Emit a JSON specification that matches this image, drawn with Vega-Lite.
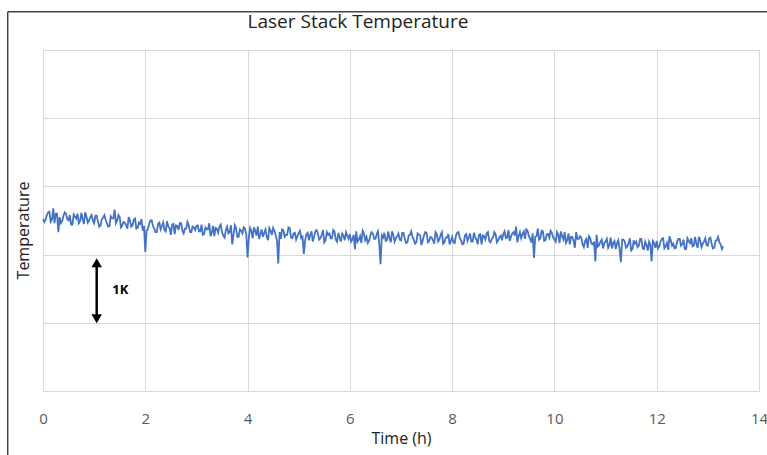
{
  "$schema": "https://vega.github.io/schema/vega-lite/v6.json",
  "width": 716,
  "height": 341,
  "autosize": {"type": "none"},
  "padding": {"left": 43, "top": 50, "right": 8, "bottom": 64},
  "background": "white",
  "title": {"text": "Laser Stack Temperature", "anchor": "middle", "frame": "group", "dx": -43, "offset": 0, "dy": 21, "fontSize": 19, "font": "Open Sans", "fontWeight": "normal", "color": "#222222"},
  "config": {
    "view": {"stroke": null},
    "axis": {"gridColor": "#d9d9d9", "gridWidth": 1, "domain": false, "ticks": false, "labelFont": "Open Sans", "titleFont": "Open Sans", "labelColor": "#595959", "titleColor": "#222222", "titleFontWeight": "normal"}
  },
  "layer": [
    {
      "data": {"values": [
        {"t":0.00,"v":2.52},{"t":0.05,"v":2.51},{"t":0.10,"v":2.62},{"t":0.15,"v":2.48},{"t":0.20,"v":2.68},{"t":0.25,"v":2.60},{"t":0.30,"v":2.33},{"t":0.35,"v":2.46},{"t":0.40,"v":2.57},{"t":0.45,"v":2.60},
        {"t":0.50,"v":2.50},{"t":0.55,"v":2.44},{"t":0.60,"v":2.59},{"t":0.65,"v":2.53},{"t":0.70,"v":2.46},{"t":0.75,"v":2.61},{"t":0.80,"v":2.45},{"t":0.85,"v":2.56},{"t":0.90,"v":2.50},{"t":0.95,"v":2.58},
        {"t":1.00,"v":2.46},{"t":1.05,"v":2.57},{"t":1.10,"v":2.41},{"t":1.15,"v":2.52},{"t":1.20,"v":2.58},{"t":1.25,"v":2.46},{"t":1.30,"v":2.42},{"t":1.35,"v":2.53},{"t":1.40,"v":2.66},{"t":1.45,"v":2.50},
        {"t":1.50,"v":2.55},{"t":1.55,"v":2.43},{"t":1.60,"v":2.47},{"t":1.65,"v":2.38},{"t":1.70,"v":2.50},{"t":1.75,"v":2.43},{"t":1.80,"v":2.53},{"t":1.85,"v":2.39},{"t":1.90,"v":2.45},{"t":1.95,"v":2.35},
        {"t":2.00,"v":2.04},{"t":2.05,"v":2.37},{"t":2.10,"v":2.50},{"t":2.15,"v":2.42},{"t":2.20,"v":2.33},{"t":2.25,"v":2.45},{"t":2.30,"v":2.37},{"t":2.35,"v":2.47},{"t":2.40,"v":2.34},{"t":2.45,"v":2.41},
        {"t":2.50,"v":2.29},{"t":2.55,"v":2.45},{"t":2.60,"v":2.43},{"t":2.65,"v":2.36},{"t":2.70,"v":2.46},{"t":2.75,"v":2.31},{"t":2.80,"v":2.38},{"t":2.85,"v":2.43},{"t":2.90,"v":2.33},{"t":2.95,"v":2.40},
        {"t":3.00,"v":2.42},{"t":3.05,"v":2.34},{"t":3.10,"v":2.44},{"t":3.15,"v":2.30},{"t":3.20,"v":2.37},{"t":3.25,"v":2.46},{"t":3.30,"v":2.32},{"t":3.35,"v":2.27},{"t":3.40,"v":2.38},{"t":3.45,"v":2.41},
        {"t":3.50,"v":2.33},{"t":3.55,"v":2.25},{"t":3.60,"v":2.41},{"t":3.65,"v":2.33},{"t":3.70,"v":2.15},{"t":3.75,"v":2.43},{"t":3.80,"v":2.26},{"t":3.85,"v":2.37},{"t":3.90,"v":2.31},{"t":3.95,"v":2.38},
        {"t":4.00,"v":1.96},{"t":4.05,"v":2.39},{"t":4.10,"v":2.24},{"t":4.15,"v":2.35},{"t":4.20,"v":2.41},{"t":4.25,"v":2.30},{"t":4.30,"v":2.26},{"t":4.35,"v":2.37},{"t":4.40,"v":2.21},{"t":4.45,"v":2.35},
        {"t":4.50,"v":2.39},{"t":4.55,"v":2.28},{"t":4.60,"v":1.87},{"t":4.65,"v":2.23},{"t":4.70,"v":2.36},{"t":4.75,"v":2.29},{"t":4.80,"v":2.40},{"t":4.85,"v":2.25},{"t":4.90,"v":2.31},{"t":4.95,"v":2.22},
        {"t":5.00,"v":2.32},{"t":5.05,"v":2.24},{"t":5.10,"v":2.01},{"t":5.15,"v":2.30},{"t":5.20,"v":2.21},{"t":5.25,"v":2.34},{"t":5.30,"v":2.26},{"t":5.35,"v":2.36},{"t":5.40,"v":2.22},{"t":5.45,"v":2.29},
        {"t":5.50,"v":2.18},{"t":5.55,"v":2.33},{"t":5.60,"v":2.31},{"t":5.65,"v":2.24},{"t":5.70,"v":2.34},{"t":5.75,"v":2.19},{"t":5.80,"v":2.25},{"t":5.85,"v":2.31},{"t":5.90,"v":2.21},{"t":5.95,"v":2.28},
        {"t":6.00,"v":2.30},{"t":6.05,"v":2.22},{"t":6.10,"v":2.08},{"t":6.15,"v":2.19},{"t":6.20,"v":2.27},{"t":6.25,"v":2.35},{"t":6.30,"v":2.21},{"t":6.35,"v":2.17},{"t":6.40,"v":2.28},{"t":6.45,"v":2.31},
        {"t":6.50,"v":2.23},{"t":6.55,"v":2.34},{"t":6.60,"v":1.86},{"t":6.65,"v":2.25},{"t":6.70,"v":2.20},{"t":6.75,"v":2.34},{"t":6.80,"v":2.18},{"t":6.85,"v":2.29},{"t":6.90,"v":2.24},{"t":6.95,"v":2.31},
        {"t":7.00,"v":2.21},{"t":7.05,"v":2.32},{"t":7.10,"v":2.17},{"t":7.15,"v":2.28},{"t":7.20,"v":2.34},{"t":7.25,"v":2.22},{"t":7.30,"v":2.18},{"t":7.35,"v":2.29},{"t":7.40,"v":2.14},{"t":7.45,"v":2.28},
        {"t":7.50,"v":2.32},{"t":7.55,"v":2.20},{"t":7.60,"v":2.25},{"t":7.65,"v":2.16},{"t":7.70,"v":2.30},{"t":7.75,"v":2.22},{"t":7.80,"v":2.33},{"t":7.85,"v":2.18},{"t":7.90,"v":2.25},{"t":7.95,"v":2.15},
        {"t":8.00,"v":2.26},{"t":8.05,"v":2.17},{"t":8.10,"v":2.32},{"t":8.15,"v":2.24},{"t":8.20,"v":2.15},{"t":8.25,"v":2.28},{"t":8.30,"v":2.20},{"t":8.35,"v":2.31},{"t":8.40,"v":2.19},{"t":8.45,"v":2.26},
        {"t":8.50,"v":2.15},{"t":8.55,"v":2.30},{"t":8.60,"v":2.28},{"t":8.65,"v":2.22},{"t":8.70,"v":2.33},{"t":8.75,"v":2.18},{"t":8.80,"v":2.25},{"t":8.85,"v":2.30},{"t":8.90,"v":2.21},{"t":8.95,"v":2.28},
        {"t":9.00,"v":2.30},{"t":9.05,"v":2.24},{"t":9.10,"v":2.36},{"t":9.15,"v":2.26},{"t":9.20,"v":2.33},{"t":9.25,"v":2.41},{"t":9.30,"v":2.27},{"t":9.35,"v":2.24},{"t":9.40,"v":2.34},{"t":9.45,"v":2.37},
        {"t":9.50,"v":2.27},{"t":9.55,"v":2.18},{"t":9.60,"v":1.95},{"t":9.65,"v":2.27},{"t":9.70,"v":2.22},{"t":9.75,"v":2.35},{"t":9.80,"v":2.20},{"t":9.85,"v":2.30},{"t":9.90,"v":2.25},{"t":9.95,"v":2.32},
        {"t":10.00,"v":2.22},{"t":10.05,"v":2.33},{"t":10.10,"v":2.17},{"t":10.15,"v":2.27},{"t":10.20,"v":2.33},{"t":10.25,"v":2.21},{"t":10.30,"v":2.15},{"t":10.35,"v":2.26},{"t":10.40,"v":2.10},{"t":10.45,"v":2.23},
        {"t":10.50,"v":2.27},{"t":10.55,"v":2.15},{"t":10.60,"v":2.20},{"t":10.65,"v":2.10},{"t":10.70,"v":2.24},{"t":10.75,"v":2.15},{"t":10.80,"v":1.90},{"t":10.85,"v":2.12},{"t":10.90,"v":2.19},{"t":10.95,"v":2.09},
        {"t":11.00,"v":2.19},{"t":11.05,"v":2.10},{"t":11.10,"v":2.25},{"t":11.15,"v":2.17},{"t":11.20,"v":2.08},{"t":11.25,"v":2.21},{"t":11.30,"v":1.89},{"t":11.35,"v":2.22},{"t":11.40,"v":2.10},{"t":11.45,"v":2.17},
        {"t":11.50,"v":2.06},{"t":11.55,"v":2.21},{"t":11.60,"v":2.19},{"t":11.65,"v":2.13},{"t":11.70,"v":2.23},{"t":11.75,"v":2.08},{"t":11.80,"v":2.14},{"t":11.85,"v":2.19},{"t":11.90,"v":1.90},{"t":11.95,"v":2.17},
        {"t":12.00,"v":2.20},{"t":12.05,"v":2.12},{"t":12.10,"v":2.23},{"t":12.15,"v":2.09},{"t":12.20,"v":2.17},{"t":12.25,"v":2.27},{"t":12.30,"v":2.13},{"t":12.35,"v":2.09},{"t":12.40,"v":2.20},{"t":12.45,"v":2.23},
        {"t":12.50,"v":2.15},{"t":12.55,"v":2.08},{"t":12.60,"v":2.24},{"t":12.65,"v":2.17},{"t":12.70,"v":2.12},{"t":12.75,"v":2.26},{"t":12.80,"v":2.10},{"t":12.85,"v":2.21},{"t":12.90,"v":2.16},{"t":12.95,"v":2.24},
        {"t":13.00,"v":2.13},{"t":13.05,"v":2.25},{"t":13.10,"v":2.09},{"t":13.15,"v":2.20},{"t":13.20,"v":2.26},{"t":13.25,"v":2.15},{"t":13.30,"v":2.12},
        {"t":0.025,"v":2.48},{"t":0.075,"v":2.58},{"t":0.125,"v":2.63},{"t":0.175,"v":2.51},{"t":0.225,"v":2.46},{"t":0.275,"v":2.60},{"t":0.325,"v":2.55},{"t":0.375,"v":2.49},{"t":0.425,"v":2.62},{"t":0.475,"v":2.52},
        {"t":0.525,"v":2.58},{"t":0.575,"v":2.44},{"t":0.625,"v":2.56},{"t":0.675,"v":2.60},{"t":0.725,"v":2.49},{"t":0.775,"v":2.52},{"t":0.825,"v":2.62},{"t":0.875,"v":2.47},{"t":0.925,"v":2.55},{"t":0.975,"v":2.50},
        {"t":1.025,"v":2.57},{"t":1.075,"v":2.48},{"t":1.125,"v":2.43},{"t":1.175,"v":2.54},{"t":1.225,"v":2.51},{"t":1.275,"v":2.41},{"t":1.325,"v":2.56},{"t":1.375,"v":2.53},{"t":1.425,"v":2.46},{"t":1.475,"v":2.58},
        {"t":1.525,"v":2.40},{"t":1.575,"v":2.48},{"t":1.625,"v":2.43},{"t":1.675,"v":2.55},{"t":1.725,"v":2.41},{"t":1.775,"v":2.51},{"t":1.825,"v":2.38},{"t":1.875,"v":2.47},{"t":1.925,"v":2.52},{"t":1.975,"v":2.42},
        {"t":2.025,"v":2.35},{"t":2.075,"v":2.45},{"t":2.125,"v":2.50},{"t":2.175,"v":2.38},{"t":2.225,"v":2.33},{"t":2.275,"v":2.47},{"t":2.325,"v":2.42},{"t":2.375,"v":2.36},{"t":2.425,"v":2.49},{"t":2.475,"v":2.39},
        {"t":2.525,"v":2.44},{"t":2.575,"v":2.30},{"t":2.625,"v":2.42},{"t":2.675,"v":2.46},{"t":2.725,"v":2.35},{"t":2.775,"v":2.38},{"t":2.825,"v":2.48},{"t":2.875,"v":2.33},{"t":2.925,"v":2.41},{"t":2.975,"v":2.36},
        {"t":3.025,"v":2.43},{"t":3.075,"v":2.34},{"t":3.125,"v":2.29},{"t":3.175,"v":2.40},{"t":3.225,"v":2.37},{"t":3.275,"v":2.27},{"t":3.325,"v":2.42},{"t":3.375,"v":2.39},{"t":3.425,"v":2.32},{"t":3.475,"v":2.44},
        {"t":3.525,"v":2.28},{"t":3.575,"v":2.36},{"t":3.625,"v":2.31},{"t":3.675,"v":2.43},{"t":3.725,"v":2.29},{"t":3.775,"v":2.39},{"t":3.825,"v":2.26},{"t":3.875,"v":2.35},{"t":3.925,"v":2.40},{"t":3.975,"v":2.30},
        {"t":4.025,"v":2.25},{"t":4.075,"v":2.35},{"t":4.125,"v":2.40},{"t":4.175,"v":2.28},{"t":4.225,"v":2.23},{"t":4.275,"v":2.37},{"t":4.325,"v":2.32},{"t":4.375,"v":2.26},{"t":4.425,"v":2.39},{"t":4.475,"v":2.29},
        {"t":4.525,"v":2.35},{"t":4.575,"v":2.21},{"t":4.625,"v":2.33},{"t":4.675,"v":2.37},{"t":4.725,"v":2.26},{"t":4.775,"v":2.29},{"t":4.825,"v":2.39},{"t":4.875,"v":2.24},{"t":4.925,"v":2.32},{"t":4.975,"v":2.27},
        {"t":5.025,"v":2.35},{"t":5.075,"v":2.26},{"t":5.125,"v":2.21},{"t":5.175,"v":2.32},{"t":5.225,"v":2.29},{"t":5.275,"v":2.19},{"t":5.325,"v":2.34},{"t":5.375,"v":2.31},{"t":5.425,"v":2.24},{"t":5.475,"v":2.36},
        {"t":5.525,"v":2.21},{"t":5.575,"v":2.29},{"t":5.625,"v":2.24},{"t":5.675,"v":2.36},{"t":5.725,"v":2.22},{"t":5.775,"v":2.32},{"t":5.825,"v":2.19},{"t":5.875,"v":2.28},{"t":5.925,"v":2.33},{"t":5.975,"v":2.23},
        {"t":6.025,"v":2.19},{"t":6.075,"v":2.29},{"t":6.125,"v":2.34},{"t":6.175,"v":2.22},{"t":6.225,"v":2.17},{"t":6.275,"v":2.31},{"t":6.325,"v":2.26},{"t":6.375,"v":2.20},{"t":6.425,"v":2.33},{"t":6.475,"v":2.23},
        {"t":6.525,"v":2.30},{"t":6.575,"v":2.16},{"t":6.625,"v":2.28},{"t":6.675,"v":2.32},{"t":6.725,"v":2.21},{"t":6.775,"v":2.24},{"t":6.825,"v":2.34},{"t":6.875,"v":2.19},{"t":6.925,"v":2.27},{"t":6.975,"v":2.22},
        {"t":7.025,"v":2.32},{"t":7.075,"v":2.23},{"t":7.125,"v":2.18},{"t":7.175,"v":2.29},{"t":7.225,"v":2.26},{"t":7.275,"v":2.16},{"t":7.325,"v":2.31},{"t":7.375,"v":2.28},{"t":7.425,"v":2.21},{"t":7.475,"v":2.33},
        {"t":7.525,"v":2.18},{"t":7.575,"v":2.26},{"t":7.625,"v":2.21},{"t":7.675,"v":2.33},{"t":7.725,"v":2.19},{"t":7.775,"v":2.29},{"t":7.825,"v":2.16},{"t":7.875,"v":2.25},{"t":7.925,"v":2.30},{"t":7.975,"v":2.20},
        {"t":8.025,"v":2.18},{"t":8.075,"v":2.28},{"t":8.125,"v":2.33},{"t":8.175,"v":2.21},{"t":8.225,"v":2.16},{"t":8.275,"v":2.30},{"t":8.325,"v":2.25},{"t":8.375,"v":2.19},{"t":8.425,"v":2.32},{"t":8.475,"v":2.22},
        {"t":8.525,"v":2.29},{"t":8.575,"v":2.15},{"t":8.625,"v":2.27},{"t":8.675,"v":2.31},{"t":8.725,"v":2.20},{"t":8.775,"v":2.23},{"t":8.825,"v":2.33},{"t":8.875,"v":2.18},{"t":8.925,"v":2.26},{"t":8.975,"v":2.21},
        {"t":9.025,"v":2.34},{"t":9.075,"v":2.25},{"t":9.125,"v":2.20},{"t":9.175,"v":2.31},{"t":9.225,"v":2.28},{"t":9.275,"v":2.18},{"t":9.325,"v":2.33},{"t":9.375,"v":2.30},{"t":9.425,"v":2.23},{"t":9.475,"v":2.35},
        {"t":9.525,"v":2.23},{"t":9.575,"v":2.31},{"t":9.625,"v":2.26},{"t":9.675,"v":2.38},{"t":9.725,"v":2.24},{"t":9.775,"v":2.34},{"t":9.825,"v":2.21},{"t":9.875,"v":2.30},{"t":9.925,"v":2.35},{"t":9.975,"v":2.25},
        {"t":10.025,"v":2.19},{"t":10.075,"v":2.29},{"t":10.125,"v":2.34},{"t":10.175,"v":2.22},{"t":10.225,"v":2.17},{"t":10.275,"v":2.31},{"t":10.325,"v":2.26},{"t":10.375,"v":2.20},{"t":10.425,"v":2.33},{"t":10.475,"v":2.23},
        {"t":10.525,"v":2.25},{"t":10.575,"v":2.11},{"t":10.625,"v":2.23},{"t":10.675,"v":2.27},{"t":10.725,"v":2.16},{"t":10.775,"v":2.19},{"t":10.825,"v":2.29},{"t":10.875,"v":2.14},{"t":10.925,"v":2.22},{"t":10.975,"v":2.17},
        {"t":11.025,"v":2.23},{"t":11.075,"v":2.14},{"t":11.125,"v":2.09},{"t":11.175,"v":2.20},{"t":11.225,"v":2.17},{"t":11.275,"v":2.07},{"t":11.325,"v":2.22},{"t":11.375,"v":2.19},{"t":11.425,"v":2.12},{"t":11.475,"v":2.24},
        {"t":11.525,"v":2.08},{"t":11.575,"v":2.16},{"t":11.625,"v":2.11},{"t":11.675,"v":2.23},{"t":11.725,"v":2.09},{"t":11.775,"v":2.19},{"t":11.825,"v":2.06},{"t":11.875,"v":2.15},{"t":11.925,"v":2.20},{"t":11.975,"v":2.10},
        {"t":12.025,"v":2.09},{"t":12.075,"v":2.19},{"t":12.125,"v":2.24},{"t":12.175,"v":2.12},{"t":12.225,"v":2.07},{"t":12.275,"v":2.21},{"t":12.325,"v":2.16},{"t":12.375,"v":2.10},{"t":12.425,"v":2.23},{"t":12.475,"v":2.13},
        {"t":12.525,"v":2.22},{"t":12.575,"v":2.08},{"t":12.625,"v":2.20},{"t":12.675,"v":2.24},{"t":12.725,"v":2.13},{"t":12.775,"v":2.16},{"t":12.825,"v":2.26},{"t":12.875,"v":2.11},{"t":12.925,"v":2.19},{"t":12.975,"v":2.14},
        {"t":13.025,"v":2.24},{"t":13.075,"v":2.15},{"t":13.125,"v":2.10},{"t":13.175,"v":2.21},{"t":13.225,"v":2.18},{"t":13.275,"v":2.08}
      ]},
      "mark": {"type": "line", "color": "#4472C4", "strokeWidth": 1.8},
      "encoding": {
        "x": {"field": "t", "type": "quantitative", "sort": "ascending", "scale": {"domain": [0, 14], "nice": false}, "axis": {"values": [0, 2, 4, 6, 8, 10, 12, 14], "title": "Time (h)", "labelFontSize": 15, "labelPadding": 20, "titleFontSize": 16, "titlePadding": 4, "labelFlush": false}},
        "y": {"field": "v", "type": "quantitative", "scale": {"domain": [0, 5], "nice": false}, "axis": {"values": [0, 1, 2, 3, 4, 5], "labels": false, "title": "Temperature", "titleFontSize": 16, "titlePadding": 12, "titleY": 180, "titleAlign": "center"}}
      }
    },
    {
      "data": {"values": [{"t": 1.05, "lo": 1.06, "hi": 1.88}]},
      "mark": {"type": "rule", "color": "black", "strokeWidth": 2.5},
      "encoding": {"x": {"field": "t", "type": "quantitative"}, "y": {"field": "lo", "type": "quantitative"}, "y2": {"field": "hi"}}
    },
    {
      "data": {"values": [{"t": 1.05, "y": 1.88, "dir": "triangle-up"}, {"t": 1.05, "y": 1.06, "dir": "triangle-down"}]},
      "mark": {"type": "point", "filled": true, "color": "black", "size": 110, "opacity": 1},
      "encoding": {"x": {"field": "t", "type": "quantitative"}, "y": {"field": "y", "type": "quantitative"}, "shape": {"field": "dir", "type": "nominal", "scale": {"domain": ["triangle-up", "triangle-down"], "range": ["triangle-up", "triangle-down"]}, "legend": null}}
    },
    {
      "data": {"values": [{"t": 1.51, "y": 1.48, "label": "1K"}]},
      "mark": {"type": "text", "font": "Open Sans", "fontWeight": "bold", "fontSize": 13, "color": "black"},
      "encoding": {"x": {"field": "t", "type": "quantitative"}, "y": {"field": "y", "type": "quantitative"}, "text": {"field": "label"}}
    },
    {
      "data": {"values": [{}]},
      "mark": {"type": "rule", "color": "#444444", "strokeWidth": 1.5},
      "encoding": {"x": {"datum": -0.69}, "y": {"datum": 5.56}, "y2": {"datum": -1.0}}
    },
    {
      "data": {"values": [{}]},
      "mark": {"type": "rule", "color": "#444444", "strokeWidth": 1.5},
      "encoding": {"x": {"datum": -0.69}, "x2": {"datum": 14.3}, "y": {"datum": 5.56}}
    }
  ]
}
